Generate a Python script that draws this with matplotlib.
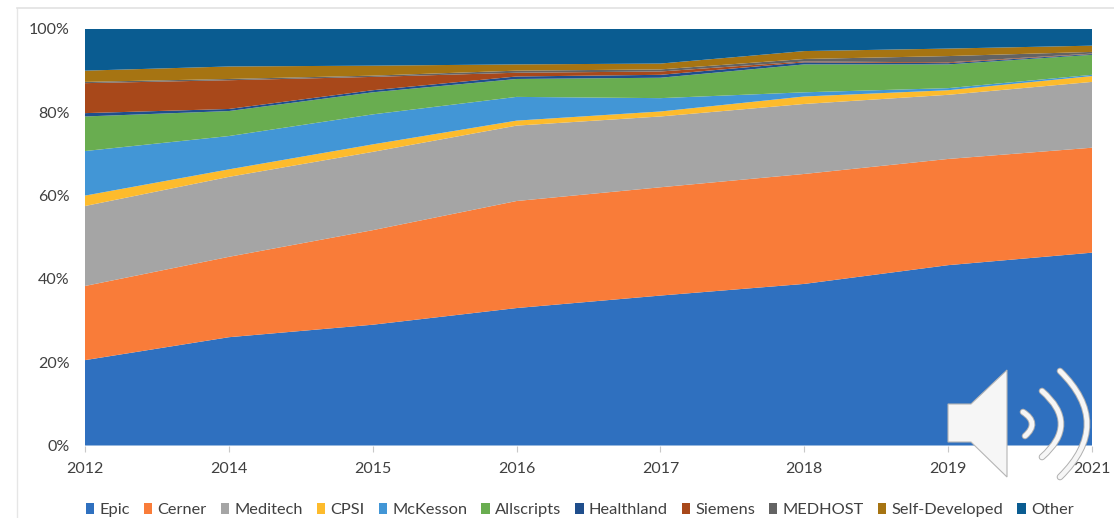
import matplotlib
matplotlib.use("Agg")
import matplotlib.pyplot as plt
from matplotlib.path import Path
from matplotlib.patches import PathPatch, Polygon, Patch

plt.rcParams['font.family'] = ['Lato', 'DejaVu Sans']

years = ['2012', '2014', '2015', '2016', '2017', '2018', '2019', '2021']
epic = [20.5, 26.0, 29.0, 33.0, 36.0, 38.8, 43.3, 46.3]
cerner = [17.8, 19.3, 22.7, 25.7, 26.0, 26.4, 25.5, 25.2]
meditech = [19.2, 19.2, 18.8, 18.1, 17.0, 16.8, 15.4, 15.8]
cpsi = [2.5, 1.8, 1.8, 1.2, 1.2, 1.8, 1.1, 1.4]
mckesson = [10.7, 8.0, 7.2, 5.7, 3.2, 1.0, 0.5, 0.3]
allscripts = [8.3, 6.0, 5.3, 4.3, 4.9, 6.7, 5.7, 4.8]
healthland = [0.8, 0.5, 0.5, 0.6, 0.7, 0.5, 0.3, 0.2]
siemens = [7.2, 6.9, 3.2, 0.9, 0.8, 0.2, 0.2, 0.1]
medhost = [0.3, 0.3, 0.3, 0.5, 0.5, 0.6, 1.5, 0.4]
self_developed = [2.7, 3.0, 2.4, 1.5, 1.4, 1.9, 1.8, 1.5]
other = [10.0, 9.0, 8.8, 8.5, 8.3, 5.3, 4.7, 4.0]

names = ['Epic', 'Cerner', 'Meditech', 'CPSI', 'McKesson', 'Allscripts',
         'Healthland', 'Siemens', 'MEDHOST', 'Self-Developed', 'Other']
series = [epic, cerner, meditech, cpsi, mckesson, allscripts,
          healthland, siemens, medhost, self_developed, other]
colors = ['#2F70BF', '#F97C39', '#A5A5A5', '#FDBB2C', '#4296D6', '#69AD50',
          '#1F4E8C', '#A8481A', '#636363', '#A67412', '#0A5C91']

W, H = 1114, 518
fig = plt.figure(figsize=(W / 100, H / 100), dpi=100, facecolor='white')
ax = fig.add_axes([85 / W, 1 - 445.5 / H, (1092 - 85) / W, (445.5 - 29) / H])

x = list(range(len(years)))
ax.stackplot(x, series, colors=colors, linewidth=0)
ax.set_xlim(0, len(years) - 1)
ax.set_ylim(0, 100)
ax.set_yticks([0, 20, 40, 60, 80, 100])
ax.set_yticklabels([f'{v}%' for v in [0, 20, 40, 60, 80, 100]])
ax.set_xticks(x)
ax.set_xticklabels(years)
ax.tick_params(axis='x', length=4, width=0.8, color='#C8C8C8', labelsize=11.5,
               labelcolor='#404040', pad=8)
ax.tick_params(axis='y', length=0, labelsize=11.5, labelcolor='#404040', pad=11)
for s in ax.spines.values():
    s.set_visible(False)

handles = [Patch(facecolor=c, label=n) for c, n in zip(colors, names)]
fig.legend(handles=handles, loc='lower left', bbox_to_anchor=(81 / W, -0.008),
           ncol=11, frameon=False, fontsize=11.8, labelcolor='#404040',
           handlelength=0.52, handleheight=0.6, handletextpad=0.32,
           columnspacing=0.84, borderpad=0.3, borderaxespad=0)

# Overlay in pixel coordinates for the slide frame and the speaker icon
ov = fig.add_axes([0, 0, 1, 1], facecolor='none')
ov.set_xlim(0, W)
ov.set_ylim(H, 0)
ov.axis('off')
ov.plot([17, 17], [518, 8], color='#E6E6E6', lw=1.0)
ov.plot([17, 1114], [8, 8], color='#E2E2E2', lw=1.2)

ov.add_patch(Polygon([(948, 404), (971, 404), (1007, 370), (1007, 477),
                      (971, 442), (948, 442)], closed=True,
                     facecolor='#F6F6F6', edgecolor='#B5B5B5', lw=0.8, zorder=5))
for a, ctrl, b in [((1023, 412), (1040, 423), (1025, 436)),
                   ((1042, 391), (1080, 424), (1042, 457)),
                   ((1060, 371), (1114, 424), (1060, 477))]:
    p = Path([a, ctrl, b], [Path.MOVETO, Path.CURVE3, Path.CURVE3])
    ov.add_patch(PathPatch(p, facecolor='none', edgecolor='#AFAFAF', lw=4.8,
                           capstyle='round', zorder=5))
    ov.add_patch(PathPatch(p, facecolor='none', edgecolor='#F6F6F6', lw=3.4,
                           capstyle='round', zorder=6))

fig.savefig('out.png', dpi=100, facecolor='white')
